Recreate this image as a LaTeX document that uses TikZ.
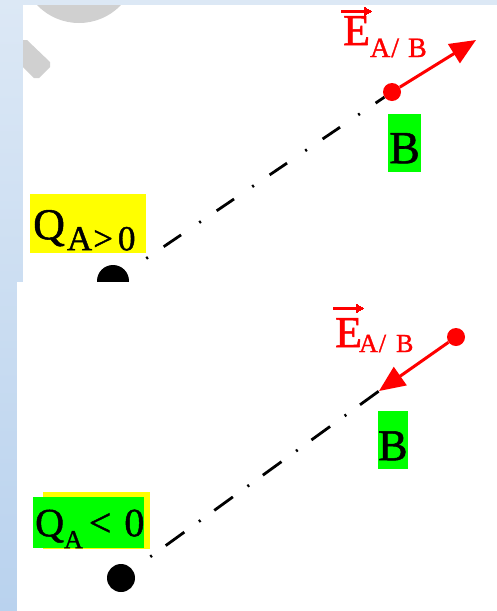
\documentclass[tikz,border=0pt]{standalone}
\usepackage{fontspec}
\setmainfont[FakeBold=1.2]{Liberation Serif}
\usetikzlibrary{arrows.meta}
\definecolor{bgtop}{RGB}{220,232,245}
\definecolor{bgbot}{RGB}{185,210,238}
\definecolor{wmark}{RGB}{208,208,208}
\definecolor{lblgreen}{RGB}{0,255,0}
\definecolor{lblyellow}{RGB}{255,255,0}
\definecolor{fieldred}{RGB}{255,0,0}
\newcommand{\vecarrow}[1]{\rlap{\raisebox{#1}{\kern-2pt\rule{23pt}{3pt}%
  \rule[-3pt]{1.6pt}{9pt}\rule[-2pt]{1.6pt}{7pt}\rule[-1pt]{1.6pt}{5pt}\rule[0pt]{1.6pt}{3pt}\rule[1pt]{1.6pt}{1pt}}}}
\tikzset{
  panel/.style={fill=white},
  charge/.style={circle, fill=black, inner sep=0pt},
  reddot/.style={circle, fill=fieldred, inner sep=0pt, minimum size=18pt},
  dashdotline/.style={line width=2.8pt, black},
  field/.style={fieldred, line width=3pt, -{Triangle[length=26pt,width=22pt]}},
  ptlabel/.style={fill=lblgreen, anchor=north west, inner ysep=0pt, text height=49pt, text depth=9pt},
  qlabel/.style={anchor=north west, inner ysep=0pt, align=left},
  elabel/.style={anchor=base west, inner sep=0pt, text=fieldred, font=\fontsize{44}{48}\selectfont}
}
\begin{document}
\begin{tikzpicture}[x=1pt,y=-1pt]
\useasboundingbox (0,0) rectangle (497,611);
% background
\fill[top color=bgtop, bottom color=bgbot] (0,0) rectangle (497,611);
% upper panel
\fill[panel] (23,5) rectangle (497,282);
\begin{scope}
  \clip (23,5) rectangle (497,282);
  \fill[wmark] (79,-35) circle (58);
  \fill[wmark] (23,40) -- (27,40) -- (50,62) -- (50,67) -- (39,78) -- (34,78) -- (23,67) -- cycle;
\end{scope}
% upper diagram
\node[charge, minimum size=32pt] (A1) at (113,281) {};
\node[reddot] (B1) at (392,92) {};
\coordinate (E1) at (476,40);
\draw[dashdotline, dash pattern=on 2pt off 19pt on 21pt off 22pt, shorten <=24pt] (A1) -- (B1);
\draw[field] (B1) -- (E1);
\node[qlabel, fill=lblyellow, inner xsep=3pt, text height=45pt, text depth=14pt, text width=110pt,
      font=\fontsize{44}{48}\selectfont] (QA1) at (30,194)
  {Q\raisebox{-11pt}{\fontsize{35}{35}\selectfont\kern2pt A\kern1pt>\kern5pt 0}};
\node[ptlabel, inner xsep=1pt, font=\fontsize{46}{50}\selectfont] (LB1) at (388,114) {B};
\node[elabel] (EL1) at (343,45)
  {\vecarrow{32.5pt}E\raisebox{-12pt}{\fontsize{28}{28}\selectfont A\kern1pt/\kern9pt B}};
% lower panel
\fill[panel] (17,282) rectangle (497,611);
% lower diagram
\node[charge, minimum size=28pt] (A2) at (121,578) {};
\coordinate (B2) at (379,391);
\node[reddot] (T2) at (456,337) {};
\draw[dashdotline, dash pattern=on 2pt off 17pt on 23pt off 18pt, shorten <=22pt] (A2) -- (B2);
\draw[field] (T2) -- (B2);
\fill[lblyellow] (43,492) rectangle (150,549);
\node[qlabel, fill=lblgreen, inner xsep=2pt, text height=39pt, text depth=12pt, text width=107pt,
      font=\fontsize{40}{44}\selectfont] (QA2) at (33,497)
  {Q\raisebox{-12pt}{\fontsize{26}{26}\selectfont A}\kern6pt<\kern13pt0};
\node[ptlabel, inner xsep=0pt, font=\fontsize{44}{48}\selectfont] (LB2) at (378,411) {B};
\node[elabel] (EL2) at (335,347)
  {\vecarrow{37.5pt}E\raisebox{-5pt}{\fontsize{26}{26}\selectfont\kern-3pt A\kern1pt/\kern10pt B}};
\end{tikzpicture}
\end{document}
